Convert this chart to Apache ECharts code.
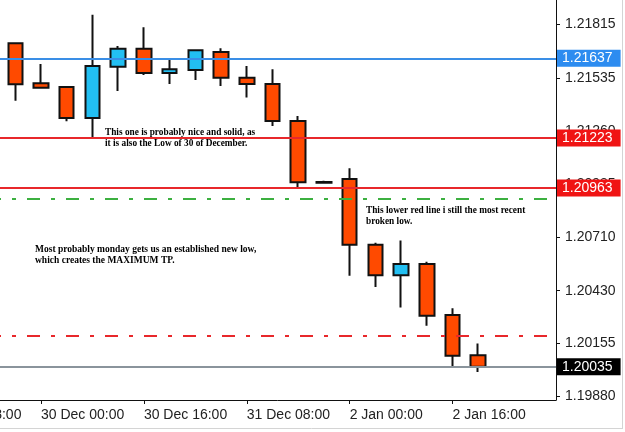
<!DOCTYPE html>
<html>
<head>
<meta charset="utf-8">
<title>EURUSD H4</title>
<script src="https://cdn.jsdelivr.net/npm/echarts@6/dist/echarts.min.js"></script>
<style>
  html, body { margin: 0; padding: 0; background: #fff; }
  #chart { width: 625px; height: 432px; }
</style>
</head>
<body>
<div id="chart"></div>
<script>
// H4 bar times; the x position of a bar is its index here
const times = [
  "29 Dec 08:00", "29 Dec 12:00", "29 Dec 16:00", "29 Dec 20:00",
  "30 Dec 00:00", "30 Dec 04:00", "30 Dec 08:00", "30 Dec 12:00",
  "30 Dec 16:00", "30 Dec 20:00", "31 Dec 00:00", "31 Dec 04:00",
  "31 Dec 08:00", "31 Dec 12:00", "31 Dec 16:00", "31 Dec 20:00",
  "2 Jan 00:00", "2 Jan 04:00", "2 Jan 08:00", "2 Jan 12:00",
  "2 Jan 16:00", "2 Jan 20:00"
];
const firstBar = 3; // first visible candle is 29 Dec 20:00

const opens  = [1.21715, 1.21507, 1.21488, 1.21327, 1.21593, 1.21687, 1.21561, 1.21576, 1.21670, 1.21536,
                1.21504, 1.21311, 1.20994, 1.21010, 1.20669, 1.20510, 1.20569, 1.20304, 1.20094];
const closes = [1.21502, 1.21484, 1.21327, 1.21597, 1.21687, 1.21561, 1.21580, 1.21679, 1.21536, 1.21504,
                1.21311, 1.20993, 1.20991, 1.20669, 1.20510, 1.20569, 1.20300, 1.20092, 1.20035];
const lows   = [1.21417, 1.21482, 1.21310, 1.21223, 1.21467, 1.21550, 1.21504, 1.21524, 1.21493, 1.21434,
                1.21285, 1.20962, 1.20988, 1.20508, 1.20449, 1.20342, 1.20248, 1.20035, 1.20008];
const highs  = [1.21715, 1.21607, 1.21490, 1.21864, 1.21701, 1.21798, 1.21632, 1.21681, 1.21689, 1.21597,
                1.21580, 1.21337, 1.21001, 1.21066, 1.20679, 1.20690, 1.20580, 1.20338, 1.20155];

const xTickIdx = [0, 4, 8, 12, 16, 20];
const yTicks = [1.21815, 1.21535, 1.21260, 1.20985, 1.20710, 1.20430, 1.20155, 1.19880];

// horizontal levels drawn on the chart
const levelValues = [1.21637, 1.21223, 1.20963, 1.20910, 1.20196, 1.20035];

const note1 = "This one is probably nice and solid, as\nit is also the Low of 30 of December.";
const note2 = "This lower red line i still the most recent\nbroken low.";
const note3 = "Most probably monday gets us an established new low,\nwhich creates the MAXIMUM TP.";

const dashDot = [13, 11, 4, 11];
const levelStyles = [
  { color: "#3a8ee6", type: "solid", width: 2, box: "#2d8cf0" },
  { color: "#e8282b", type: "solid", width: 1.8, box: "#f01414" },
  { color: "#e8282b", type: "solid", width: 1.8, box: "#f01414" },
  { color: "#3cb040", type: dashDot, width: 2, box: null },
  { color: "#e8282b", type: dashDot, width: 2, box: null },
  { color: "#8a949c", type: "solid", width: 2, box: "#000" }
];

const candleData = opens.map((o, i) => [firstBar + i, o, closes[i], lows[i], highs[i]]);

const labelFont = "Liberation Sans";

const markLineData = levelValues.map((v, i) => {
  const s = levelStyles[i];
  return {
    yAxis: v,
    lineStyle: { color: s.color, type: s.type, width: s.width },
    label: {
      show: !!s.box,
      position: "end",
      distance: 1,
      formatter: () => v.toFixed(5),
      backgroundColor: s.box,
      color: "#fff",
      padding: [2, 8, 1, 5],
      fontSize: 14,
      fontFamily: labelFont
    }
  };
});

const chart = echarts.init(document.getElementById("chart"));
chart.setOption({
  animation: false,
  backgroundColor: "#fff",
  grid: { left: -90, right: 69, top: 0, bottom: 32, containLabel: false, outerBoundsMode: "none" },
  xAxis: {
    type: "value",
    min: -1.094,
    max: 24.023,
    splitLine: { show: false },
    axisLine: { show: true, onZero: false, lineStyle: { color: "#111", width: 1 } },
    axisTick: { show: true, customValues: xTickIdx, length: 4, lineStyle: { color: "#111" } },
    axisLabel: {
      customValues: xTickIdx,
      formatter: (v) => times[v],
      align: "left",
      margin: 8,
      color: "#222",
      fontSize: 14,
      fontFamily: labelFont
    }
  },
  yAxis: {
    type: "value",
    position: "right",
    min: 1.19862,
    max: 1.21940,
    splitLine: { show: false },
    axisLine: { show: true, onZero: false, lineStyle: { color: "#111", width: 1 } },
    axisTick: { show: true, customValues: yTicks, length: 4, lineStyle: { color: "#111" } },
    axisLabel: {
      customValues: yTicks,
      formatter: (v) => v.toFixed(5),
      margin: 9,
      color: "#222",
      fontSize: 14,
      fontFamily: labelFont
    }
  },
  series: [
    {
      type: "candlestick",
      data: candleData,
      barWidth: 15,
      itemStyle: {
        color: "#22bff2",
        color0: "#ff4a00",
        borderColor: "#111",
        borderColor0: "#111",
        borderWidth: 2
      },
      markLine: {
        silent: true,
        symbol: "none",
        precision: 5,
        data: markLineData
      }
    }
  ],
  graphic: [
    { type: "text", left: 105, top: 127, style: { text: note1, font: "bold 9.3px 'Liberation Serif'", lineHeight: 11, fill: "#000" } },
    { type: "text", left: 366, top: 205, style: { text: note2, font: "bold 9.3px 'Liberation Serif'", lineHeight: 11, fill: "#000" } },
    { type: "text", left: 35, top: 244, style: { text: note3, font: "bold 9.5px 'Liberation Serif'", lineHeight: 11, fill: "#000" } },
    { type: "line", shape: { x1: 622.5, y1: 0, x2: 622.5, y2: 428 }, style: { stroke: "#d4d4d4", lineWidth: 1 } },
    { type: "line", shape: { x1: 0, y1: 428.5, x2: 623, y2: 428.5 }, style: { stroke: "#d4d4d4", lineWidth: 1 } }
  ]
});
</script>
</body>
</html>
